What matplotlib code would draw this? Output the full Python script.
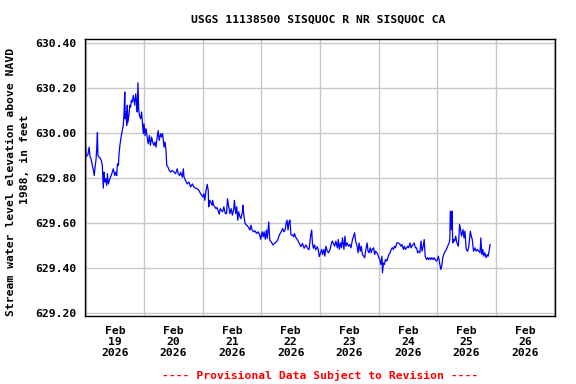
import numpy as np
import matplotlib
matplotlib.use('Agg')
import matplotlib.pyplot as plt
import matplotlib.dates as mdates

###############################################################################
### Data (hours after 2026-02-19 00:00, stage in feet NAVD88)
###############################################################################
hours = [0.0, 0.1, 0.5, 0.9, 1.4, 1.8, 2.2, 2.7, 3.1, 3.5, 3.9, 4.2, 4.5, 4.8, 5.0,
         5.4, 5.9, 6.4, 6.8, 7.2, 7.5, 7.8, 8.2, 8.6, 8.9, 9.3, 9.7, 10.2, 10.8,
         11.3, 11.9, 12.3, 12.7, 13.0, 13.4, 13.6, 14.0, 14.6, 15.0, 15.4, 15.7,
         16.0, 16.2, 16.5, 16.8, 17.0, 17.3, 17.7, 18.1, 18.4, 18.7, 19.1, 19.5,
         19.8, 20.1, 20.5, 20.9, 21.1, 21.4, 21.7, 22.0, 22.5, 22.9, 23.3, 23.6,
         23.9, 24.3, 24.7, 25.2, 25.6, 26.1, 26.5, 27.0, 27.4, 28.0, 28.4, 28.8,
         29.3, 29.7, 30.1, 30.7, 31.1, 31.5, 32.1, 32.5, 32.9, 33.2, 33.7, 34.2,
         34.8, 35.5, 36.2, 36.8, 37.5, 37.9, 38.5, 38.9, 39.6, 40.0, 40.3, 40.9,
         41.6, 42.3, 43.0, 43.7, 44.3, 45.0, 45.7, 46.4, 47.1,
         48.0, 48.4, 48.8, 49.3, 49.8, 50.2, 50.4, 50.8, 51.2, 51.8, 52.0, 52.4,
         52.9, 53.4, 53.8, 54.2, 54.7, 55.1, 55.5, 56.1, 56.6, 57.2, 57.7, 58.1,
         58.5, 59.1, 59.6, 60.1, 60.7, 60.9, 61.5, 61.9, 62.3, 62.7, 63.2, 63.6,
         64.2, 64.4, 64.8, 65.3, 65.9, 66.6, 67.3, 67.7, 68.2, 68.8, 69.3, 70.0,
         70.6, 71.3, 71.7, 72.3, 72.7, 73.1, 73.6, 74.0, 74.4, 75.0, 75.4, 76.0,
         76.7, 77.4, 78.1, 78.7, 79.1, 79.5, 80.1, 80.7, 81.2, 81.7, 82.1, 82.5,
         82.9, 83.3, 83.7, 84.1, 84.7, 85.2, 85.5, 86.1, 86.8, 87.5, 88.2, 88.8,
         89.5, 90.2, 90.9, 91.5, 92.2, 92.6, 92.9, 93.3, 93.8, 94.2, 94.9, 95.3,
         95.7,
         96.7, 97.1, 97.6, 98.0, 98.4, 99.0, 99.5, 100.1, 100.6, 101.0, 101.4,
         102.0, 102.5, 103.1, 103.5, 103.9, 104.4, 104.8, 105.2, 105.8, 106.2,
         106.6, 107.1, 107.7, 108.2, 108.7, 109.3, 109.8, 110.2, 110.6, 111.2,
         111.6, 112.0, 112.5, 112.9, 113.4, 113.9, 114.3, 114.8, 115.3, 115.7,
         116.1, 116.6, 117.0, 117.4, 118.0, 118.4, 118.8, 119.3, 119.7, 120.1,
         120.5, 120.9, 121.4, 121.6, 122.0, 122.4, 122.8, 123.4, 123.8, 124.2,
         124.7, 125.2, 125.6, 126.1, 126.5, 126.9, 127.5, 128.1, 128.8, 129.2,
         129.6, 130.2, 130.6, 131.0, 131.5, 131.9, 132.3, 132.9, 133.3, 133.7,
         134.2, 134.6, 135.1, 135.6, 136.0, 136.4, 136.9, 137.4, 137.8, 138.3,
         138.7, 139.1, 139.7, 140.1, 140.5, 141.0, 141.4, 141.8, 142.4, 142.8,
         143.2, 143.7, 144.1, 144.5, 145.1, 145.5, 145.9, 146.3, 146.7, 147.3,
         147.8, 148.3, 148.9, 149.2, 149.4, 149.8, 150.1, 150.4, 150.8, 151.2,
         151.6, 152.1, 152.7, 153.2, 153.6, 154.0, 154.6, 155.0, 155.4, 155.9,
         156.5, 157.0, 157.6, 158.0, 158.4, 158.9, 159.5, 160.0, 160.5, 161.1,
         161.6, 161.9, 162.3, 162.7, 163.1, 163.5, 164.1, 164.5, 164.9, 165.3,
         165.7]

stage = [629.936, 629.892, 629.899, 629.902, 629.936, 629.892, 629.885, 629.855,
         629.837, 629.810, 629.855, 629.877, 629.929, 630.000, 629.899, 629.892,
         629.888, 629.877, 629.855, 629.754, 629.825, 629.781, 629.796, 629.766,
         629.818, 629.773, 629.788, 629.803, 629.822, 629.840, 629.810, 629.825,
         629.810, 629.862, 629.855, 629.899, 629.944, 629.988, 630.010, 630.033,
         630.084, 630.181, 630.062, 630.092, 630.033, 630.122, 630.047, 630.077,
         630.122, 630.114, 630.144, 630.136, 630.166, 630.144, 630.122, 630.173,
         630.129, 630.092, 630.222, 630.107, 630.077, 630.062, 630.092, 630.040,
         629.996, 630.040, 629.988, 630.018, 629.981, 629.951, 629.988, 629.944,
         629.981, 629.959, 629.944, 629.959, 629.936, 629.981, 630.010, 629.966,
         629.996, 629.981, 629.996, 629.936, 629.959, 629.922, 629.855, 629.848,
         629.833, 629.825, 629.833, 629.825, 629.818, 629.840, 629.818, 629.810,
         629.825, 629.803, 629.840, 629.803, 629.788, 629.773, 629.781, 629.759,
         629.773, 629.759, 629.754, 629.751, 629.744, 629.729,
         629.715, 629.729, 629.700, 629.744, 629.771, 629.744, 629.671, 629.700,
         629.693, 629.678, 629.700, 629.678, 629.671, 629.663, 629.668, 629.656,
         629.638, 629.663, 629.656, 629.649, 629.671, 629.641, 629.641, 629.707,
         629.678, 629.641, 629.663, 629.634, 629.663, 629.700, 629.641, 629.671,
         629.612, 629.649, 629.627, 629.619, 629.649, 629.678, 629.634, 629.597,
         629.590, 629.582, 629.568, 629.590, 629.568, 629.560, 629.565, 629.553,
         629.560, 629.546, 629.527, 629.560, 629.538, 629.560, 629.527, 629.568,
         629.531, 629.604, 629.524, 629.516, 629.502, 629.509, 629.516, 629.524,
         629.538, 629.550, 629.560, 629.575, 629.560, 629.568, 629.597, 629.612,
         629.568, 629.604, 629.612, 629.546, 629.546, 629.538, 629.553, 629.535,
         629.524, 629.509, 629.494, 629.509, 629.487, 629.502, 629.487, 629.480,
         629.546, 629.568, 629.509, 629.487, 629.502, 629.480, 629.494, 629.480,
         629.450,
         629.482, 629.459, 629.482, 629.452, 629.496, 629.474, 629.467, 629.482,
         629.504, 629.519, 629.511, 629.496, 629.519, 629.489, 629.526, 629.482,
         629.511, 629.489, 629.533, 629.482, 629.541, 629.496, 629.511, 629.496,
         629.504, 629.489, 629.526, 629.541, 629.556, 629.519, 629.496, 629.467,
         629.511, 629.474, 629.496, 629.459, 629.452, 629.445, 629.482, 629.511,
         629.474, 629.467, 629.489, 629.467, 629.482, 629.489, 629.459, 629.474,
         629.467, 629.459, 629.445, 629.437, 629.415, 629.452, 629.378, 629.422,
         629.415, 629.437, 629.430, 629.445, 629.459, 629.467, 629.482, 629.489,
         629.482, 629.496, 629.489, 629.511, 629.511, 629.504, 629.496, 629.504,
         629.482, 629.496, 629.482, 629.489, 629.496, 629.489, 629.511, 629.489,
         629.496, 629.504, 629.511, 629.489, 629.489, 629.467, 629.474, 629.467,
         629.519, 629.474, 629.496, 629.526, 629.452, 629.437, 629.445, 629.437,
         629.445, 629.437, 629.445, 629.437, 629.445, 629.437, 629.430, 629.437,
         629.452, 629.415, 629.393, 629.408, 629.445, 629.459, 629.474, 629.482,
         629.496, 629.511, 629.526, 629.652, 629.570, 629.652, 629.511, 629.526,
         629.519, 629.541, 629.511, 629.496, 629.593, 629.570, 629.541, 629.570,
         629.533, 629.563, 629.482, 629.474, 629.496, 629.563, 629.541, 629.526,
         629.474, 629.489, 629.474, 629.482, 629.474, 629.467, 629.533, 629.459,
         629.482, 629.452, 629.467, 629.445, 629.459, 629.452, 629.474, 629.504]

yticks = [629.20, 629.40, 629.60, 629.80, 630.00, 630.20, 630.40]
title = 'USGS 11138500 SISQUOC R NR SISQUOC CA'
ylab1 = 'Stream water level elevation above NAVD'
ylab2 = '1988, in feet'
footer = '---- Provisional Data Subject to Revision ----'

start = np.datetime64('2026-02-19T00:00')
times = start + (np.array(hours) * 60).astype('timedelta64[m]')

###############################################################################
### Plot
###############################################################################
plt.rcParams['font.family'] = 'DejaVu Sans Mono'
plt.rcParams['font.weight'] = 'bold'
FS = 8.2

fig = plt.figure(figsize=(5.76, 3.84), dpi=100)
ax = fig.add_axes([0.1481, 0.1763, 0.8149, 0.7214])

ax.plot(times, stage, color='#0000FF', lw=0.9)

ax.set_xlim(np.datetime64('2026-02-18T23:50'), np.datetime64('2026-02-27T00:10'))
ax.set_ylim(629.185, 630.415)

ax.xaxis.set_major_locator(mdates.DayLocator())
ax.xaxis.set_major_formatter(plt.NullFormatter())
ax.xaxis.set_minor_locator(mdates.HourLocator(byhour=12))
ax.xaxis.set_minor_formatter(mdates.DateFormatter('%b\n%d\n%Y'))
ax.set_yticks(yticks)
ax.set_yticklabels(['%.2f' % v for v in yticks])

ax.tick_params(axis='both', which='both', length=0, labelsize=FS)
ax.tick_params(axis='x', which='minor', pad=7)
ax.tick_params(axis='y', pad=6)
for lab in ax.get_xticklabels(minor=True):
    lab.set_fontweight('bold')
    lab.set_linespacing(1.1)

ax.grid(True, which='major', color='#C8C8C8', lw=1.0)
ax.set_axisbelow(True)
for sp in ax.spines.values():
    sp.set_linewidth(1.0)
    sp.set_color('black')

fig.text(0.553, 0.948, title, ha='center', va='center', fontsize=FS, fontweight='bold')
fig.text(0.019, 0.527, ylab1, rotation=90, ha='center', va='center', fontsize=FS, fontweight='bold')
fig.text(0.0434, 0.586, ylab2, rotation=90, ha='center', va='center', fontsize=FS, fontweight='bold')
fig.text(0.555, 0.023, footer, ha='center', va='center', fontsize=FS, fontweight='bold', color='#FF0000')

fig.savefig('out.png', dpi=100)
